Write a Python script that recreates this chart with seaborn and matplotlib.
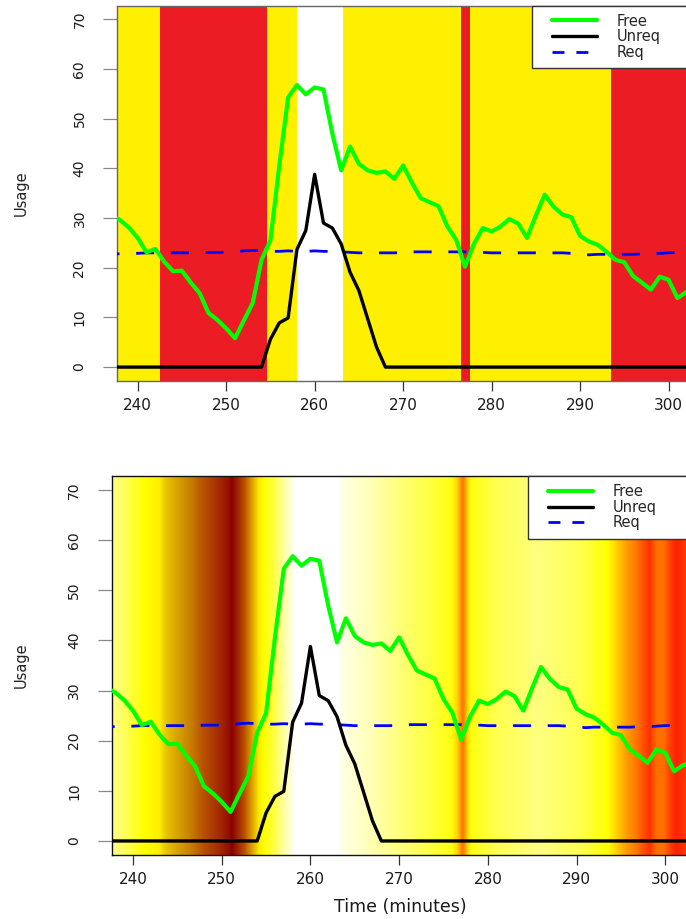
import numpy as np
import pandas as pd
import matplotlib
matplotlib.use("Agg")
import matplotlib.pyplot as plt
import seaborn as sns
from matplotlib.colors import LinearSegmentedColormap
from matplotlib.lines import Line2D
from matplotlib.legend_handler import HandlerLine2D

# ---------------- data ----------------
time = list(range(237, 304))
free = [30.6, 29.6, 28.1, 26.0, 23.1, 23.8, 21.2, 19.3, 19.4, 17.0,
        14.9, 10.9, 9.5, 7.8, 5.8, 9.4, 12.9, 21.6, 25.5, 40.5,
        54.3, 56.8, 54.9, 56.3, 55.9, 47.0, 39.6, 44.4, 40.9, 39.6,
        39.1, 39.4, 37.9, 40.6, 37.1, 34.0, 33.2, 32.4, 28.3, 25.6,
        20.2, 24.8, 28.0, 27.3, 28.3, 29.8, 28.9, 26.0, 30.5, 34.7,
        32.3, 30.7, 30.2, 26.4, 25.3, 24.6, 23.2, 21.6, 21.1, 18.3,
        17.0, 15.6, 18.2, 17.6, 13.9, 15.1, 15.6]
unreq = [0, 0, 0, 0, 0, 0, 0, 0, 0, 0,
         0, 0, 0, 0, 0, 0, 0, 0, 5.6, 8.9,
         9.9, 23.7, 27.5, 38.8, 29.0, 28.0, 24.8, 19.1, 15.4, 9.7,
         4.0, 0, 0, 0, 0, 0, 0, 0, 0, 0,
         0, 0, 0, 0, 0, 0, 0, 0, 0, 0,
         0, 0, 0, 0, 0, 0, 0, 0, 0, 0,
         0, 0, 0, 0, 0, 0, 0]
req = [22.8, 22.8, 22.9, 22.9, 23.0, 23.0, 23.0, 23.0, 23.0, 23.0,
       23.0, 23.1, 23.1, 23.1, 23.2, 23.4, 23.5, 23.4, 23.3, 23.3,
       23.4, 23.3, 23.3, 23.4, 23.3, 23.3, 23.2, 23.1, 23.0, 23.0,
       23.0, 23.0, 23.0, 23.1, 23.2, 23.2, 23.2, 23.2, 23.2, 23.2,
       23.2, 23.1, 23.1, 23.0, 23.0, 23.0, 23.0, 23.0, 23.0, 23.0,
       23.0, 23.0, 22.9, 22.8, 22.6, 22.7, 22.7, 22.7, 22.7, 22.7,
       22.8, 22.8, 22.9, 23.0, 23.1, 23.1, 23.1]

# top panel: status bands (edges in minutes) and their status
band_edges = [236.0, 242.5, 254.6, 258.0, 263.25, 276.5, 277.6, 293.45, 304.0]
band_status = ["ok", "short", "ok", "unreq", "ok", "short", "ok", "short"]

# bottom panel: continuous heat shading read at these minutes
bg_time = [236.0, 237.4, 239.7, 241.2, 242.9, 243.6, 244.9, 246.4, 247.9, 249.4,
           250.6, 251.1, 251.7, 252.5, 253.2, 254.1, 254.7, 255.8, 256.9, 257.9,
           258.0, 263.25, 263.35, 266.0, 268.0, 270.1, 273.4, 275.8, 276.5, 277.0,
           277.2, 277.6, 278.1, 281.0, 285.8, 290.3, 293.5, 294.5, 295.5, 296.5,
           297.5, 298.2, 299.0, 299.8, 300.5, 301.2, 302.5, 304.0]
bg_color = ["#FFFF99", "#FFFF90", "#FFFF40", "#FFFF00", "#FFF000", "#E8C800", "#D8A400", "#C88000", "#B85000", "#A83000",
            "#981400", "#8B0000", "#A02000", "#B85000", "#D89000", "#F8E800", "#FFFF00", "#FFFF40", "#FFFFA0", "#FFFFE0",
            "#FFFFFF", "#FFFFFF", "#FFFFE8", "#FFFFC0", "#FFFFA0", "#FFFF78", "#FFFF40", "#FFFF10", "#FFD800", "#FF8000",
            "#FF7800", "#FFD000", "#FFFF10", "#FFFF50", "#FFFF80", "#FFFF50", "#FFFF00", "#FFD000", "#FFA000", "#FF8000",
            "#FF5000", "#FF3000", "#FF7000", "#FF7000", "#FF4000", "#FF2000", "#FF4000", "#FF4000"]

x_ticks = [240, 250, 260, 270, 280, 290, 300]
y_ticks = [0, 10, 20, 30, 40, 50, 60, 70]
series_labels = ["Free", "Unreq", "Req"]

# ---------------- style ----------------
sns.set_style("white")
plt.rcParams["font.family"] = ["DejaVu Sans"]
status_color = {"ok": "#FFEF00", "short": "#EC1C24", "unreq": "#FFFFFF"}
GREEN, BLACK, BLUE = "#00FF00", "#000000", "#0000FF"

df = pd.DataFrame({"time": time, "free": free, "unreq": unreq, "req": req})

fig = plt.figure(figsize=(6.86, 9.19), dpi=100)
W, H = 686, 919
ax1 = fig.add_axes([117 / W, 1 - 381 / H, 571 / W, 375.5 / H])
ax2 = fig.add_axes([111.7 / W, 1 - 855 / H, 576.6 / W, 379 / H])

# top background bands
for i, st in enumerate(band_status):
    ax1.axvspan(band_edges[i], band_edges[i + 1], color=status_color[st], lw=0, zorder=0)

# bottom gradient background
t0, t1 = bg_time[0], bg_time[-1]
stops = [((t - t0) / (t1 - t0), c) for t, c in zip(bg_time, bg_color)]
cmap = LinearSegmentedColormap.from_list("heatbg", stops, N=2048)
ax2.imshow(np.linspace(0, 1, 2000)[None, :], cmap=cmap, aspect="auto",
           extent=[t0, t1, -10, 100], interpolation="bilinear", zorder=0)


def draw_lines(ax):
    sns.lineplot(data=df, x="time", y="req", ax=ax, color=BLUE, linewidth=2.0,
                 linestyle=(3.5, (6.5, 6.0)), zorder=3, legend=False)
    sns.lineplot(data=df, x="time", y="free", ax=ax, color=GREEN, linewidth=3.0,
                 zorder=4, legend=False)
    sns.lineplot(data=df, x="time", y="unreq", ax=ax, color=BLACK, linewidth=2.4,
                 zorder=5, legend=False)


draw_lines(ax1)
draw_lines(ax2)

LEG_FS = 10.5
fs_px = LEG_FS * 100 / 72
handler = HandlerLine2D(xpad=12 / fs_px)

ax1.set_xlim(237.66, 302.2)
ax2.set_xlim(237.6, 302.6)
for ax in (ax1, ax2):
    ax.set_ylim(-2.8, 72.8)
    ax.set_xticks(x_ticks)
    ax.set_yticks(y_ticks)
    ax.set_xlabel("")
    ax.set_ylabel("Usage", fontsize=10.5, color="#222222", va="center")
    ax.tick_params(axis="x", length=7, width=0.9, color="#333333", labelsize=11,
                   pad=5, labelcolor="#1a1a1a", direction="out", bottom=True)
    ax.tick_params(axis="y", length=10, width=0.9, color="#888888", labelsize=10,
                   pad=12, labelcolor="#1a1a1a", direction="out", left=True)
    for lab in ax.get_yticklabels():
        lab.set_rotation(90)
        lab.set_va("center")
    handles = [Line2D([], [], color=GREEN, lw=3.0),
               Line2D([], [], color=BLACK, lw=2.4),
               Line2D([], [], color=BLUE, lw=2.0, linestyle=(0, (4.3, 4.3)))]
    leg_x = 0.7268 if ax is ax1 else 0.722
    leg = ax.legend(handles, series_labels, loc="upper left",
                    bbox_to_anchor=(leg_x, 0.0, 0.35, 1.0), mode="expand",
                    borderaxespad=0, fontsize=LEG_FS, handlelength=57 / fs_px,
                    handletextpad=20 / fs_px, borderpad=0.55, labelspacing=0.05,
                    fancybox=False, framealpha=1, edgecolor="#333333",
                    handler_map={Line2D: handler})
    leg.get_frame().set_linewidth(1.0)
    leg.set_zorder(10)

for sp in ax1.spines.values():
    sp.set_color("#666666")
    sp.set_linewidth(1.0)
for sp in ax2.spines.values():
    sp.set_color("#111111")
    sp.set_linewidth(1.0)

ax1.yaxis.set_label_coords((21 - 117) / 571, 0.5)
ax2.yaxis.set_label_coords((21 - 111.7) / 576.6, 0.5)
ax2.set_xlabel("Time (minutes)", fontsize=12.5, color="#1a1a1a", va="center")
ax2.xaxis.set_label_coords((400 - 111.7) / 576.6, (855 - 907) / 379)

fig.savefig("out.png", dpi=100)
